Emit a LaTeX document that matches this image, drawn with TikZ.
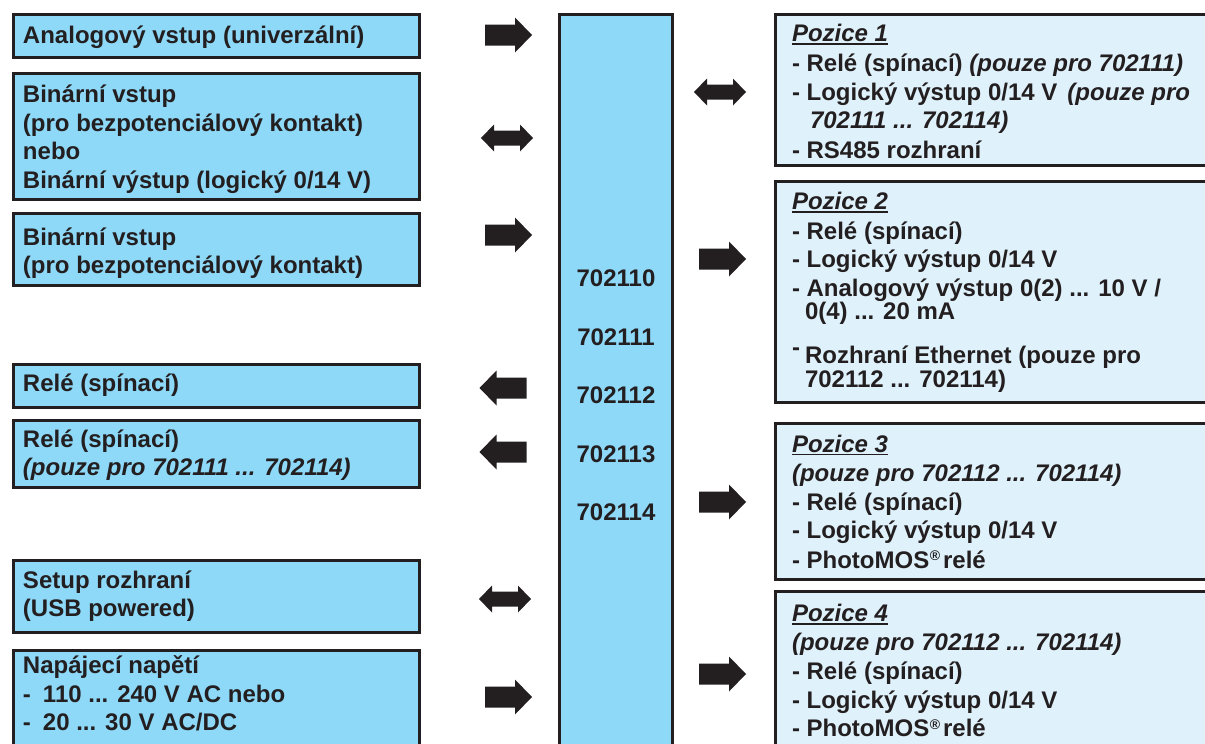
\documentclass[tikz,border=0pt]{standalone}
\usepackage{fontspec}
\setmainfont{Liberation Sans}
\usetikzlibrary{fit}
\definecolor{ink}{HTML}{231F20}
\definecolor{lblue}{HTML}{8ED8F8}
\definecolor{pblue}{HTML}{DFF1FB}
\newcommand\myul[1]{\setbox0\hbox{#1}\rlap{\rule[-3.2pt]{\wd0}{1.7pt}}\box0}
\newcommand\regm{\hspace{0.5pt}\raisebox{7.5pt}{\fontsize{14}{14}\selectfont ®}\hspace{3pt}}
\newcommand\mybox[6]{\path (#3,#4) coordinate (#1-nw) (#5,#6) coordinate (#1-se);
  \node[#2, fit=(#1-nw)(#1-se)] (#1) {};}
\tikzset{
  lbox/.style={draw=ink, fill=lblue, line width=2.8pt, inner sep=0pt, outer sep=0pt},
  pbox/.style={draw=ink, fill=pblue, line width=2.8pt, inner sep=0pt, outer sep=0pt},
  tx/.style={anchor=base west, inner sep=0pt, outer sep=0pt, text=ink,
    font=\fontsize{24}{29}\selectfont\bfseries},
  num/.style={tx, anchor=base},
  rarrow/.pic={\fill[ink] (-23.5,-10.5) -- (6.5,-10.5) -- (6.5,-17.5) -- (23.5,0)
      -- (6.5,17.5) -- (6.5,10.5) -- (-23.5,10.5) -- cycle;},
  larrow/.pic={\fill[ink] (23.5,-10.5) -- (-6.5,-10.5) -- (-6.5,-17.5) -- (-23.5,0)
      -- (-6.5,17.5) -- (-6.5,10.5) -- (23.5,10.5) -- cycle;},
  darrow/.pic={\fill[ink] (-26,0) -- (-13,-13.5) -- (-13,-7.5) -- (13,-7.5) -- (13,-13.5)
      -- (26,0) -- (13,13.5) -- (13,7.5) -- (-13,7.5) -- (-13,13.5) -- cycle;}
}
\begin{document}
\begin{tikzpicture}[x=1pt,y=-1pt]
\useasboundingbox (0,0) rectangle (1205,744);
\clip (0,0) rectangle (1205,744);
% left boxes
\mybox{A1}{lbox}{13.4}{14.4}{419.6}{57.6}
\mybox{A2}{lbox}{13.4}{73.4}{419.6}{199.6}
\mybox{A3}{lbox}{13.4}{213.4}{419.6}{285.6}
\mybox{A4}{lbox}{13.4}{364.4}{419.6}{407.6}
\mybox{A5}{lbox}{13.4}{420.4}{419.6}{487.6}
\mybox{A6}{lbox}{13.4}{560.4}{419.6}{632.6}
\mybox{A7}{lbox}{13.4}{650.4}{419.6}{800}
% central box
\mybox{C}{lbox}{559.4}{14.4}{672.6}{800}
% right boxes
\mybox{P1}{pbox}{775.4}{14.4}{1250}{165.6}
\mybox{P2}{pbox}{775.4}{181.4}{1250}{402.6}
\mybox{P3}{pbox}{775.4}{423.4}{1250}{579.6}
\mybox{P4}{pbox}{775.4}{591.4}{1250}{800}
% left texts
\node[tx] (t1) at (23,43.5) {Analogový vstup (univerzální)};
\node[tx] (t2a) at (23,102) {Binární vstup};
\node[tx] (t2b) at (23,131) {(pro bezpotenciálový kontakt)};
\node[tx] (t2c) at (23,159.5) {nebo};
\node[tx] (t2d) at (23,188) {Binární výstup (logický 0/14 V)};
\node[tx] (t3a) at (23,245) {Binární vstup};
\node[tx] (t3b) at (23,273.5) {(pro bezpotenciálový kontakt)};
\node[tx] (t4) at (23,391) {Relé (spínací)};
\node[tx] (t5a) at (23,447.5) {Relé (spínací)};
\node[tx] (t5b) at (23,475.5) {\itshape (pouze pro 702111 ... 702114)};
\node[tx] (t6a) at (23,588) {Setup rozhraní};
\node[tx] (t6b) at (23,616) {(USB powered)};
\node[tx] (t7a) at (23,673) {Napájecí napětí};
\node[tx] (t7b) at (23,702) {-\hspace{12pt}110 ... 240 V AC nebo};
\node[tx] (t7c) at (23,730) {-\hspace{12pt}20 ... 30 V AC/DC};
% central numbers
\node[num] (n0) at (616,286) {702110};
\node[num] (n1) at (616,345) {702111};
\node[num] (n2) at (616,403) {702112};
\node[num] (n3) at (616,462) {702113};
\node[num] (n4) at (616,520) {702114};
% Pozice 1
\node[tx] (p1a) at (792,41.5) {\myul{\itshape Pozice 1}};
\node[tx] (p1b) at (792,71.5) {- Relé (spínací) {\itshape (pouze pro 702111)}};
\node[tx] (p1c) at (792,100.5) {- Logický výstup 0/14 V\hspace{10pt}{\itshape (pouze pro}};
\node[tx] (p1d) at (810,128.5) {\itshape 702111 ... 702114)};
\node[tx] (p1e) at (792,158) {- RS485 rozhraní};
% Pozice 2
\node[tx] (p2a) at (792,209.5) {\myul{\itshape Pozice 2}};
\node[tx] (p2b) at (792,239) {- Relé (spínací)};
\node[tx] (p2c) at (792,267.5) {- Logický výstup 0/14 V};
\node[tx] (p2d) at (792,296) {- Analogový výstup 0(2) ... 10 V /};
\node[tx] (p2e) at (805,319) {0(4) ... 20 mA};
\node[tx] (p2f) at (792,355) {-};
\node[tx] (p2g) at (805,363) {Rozhraní Ethernet (pouze pro};
\node[tx] (p2h) at (805,387) {702112 ... 702114)};
% Pozice 3
\node[tx] (p3a) at (792,452) {\myul{\itshape Pozice 3}};
\node[tx] (p3b) at (792,481.5) {\itshape (pouze pro 702112 ... 702114)};
\node[tx] (p3c) at (792,510) {- Relé (spínací)};
\node[tx] (p3d) at (792,538.5) {- Logický výstup 0/14 V};
\node[tx] (p3e) at (792,568) {- PhotoMOS\regm relé};
% Pozice 4
\node[tx] (p4a) at (792,621.5) {\myul{\itshape Pozice 4}};
\node[tx] (p4b) at (792,650) {\itshape (pouze pro 702112 ... 702114)};
\node[tx] (p4c) at (792,679) {- Relé (spínací)};
\node[tx] (p4d) at (792,708) {- Logický výstup 0/14 V};
\node[tx] (p4e) at (792,736.5) {- PhotoMOS\regm relé};
% block arrows
\pic at (508.5,35) {rarrow};
\pic at (507,138) {darrow};
\pic at (508.5,235) {rarrow};
\pic at (503,388) {larrow};
\pic at (503,452) {larrow};
\pic at (505,599) {darrow};
\pic at (508.5,697) {rarrow};
\pic at (720,92) {darrow};
\pic at (722.5,259) {rarrow};
\pic at (722.5,502) {rarrow};
\pic at (722.5,674) {rarrow};
\end{tikzpicture}
\end{document}
